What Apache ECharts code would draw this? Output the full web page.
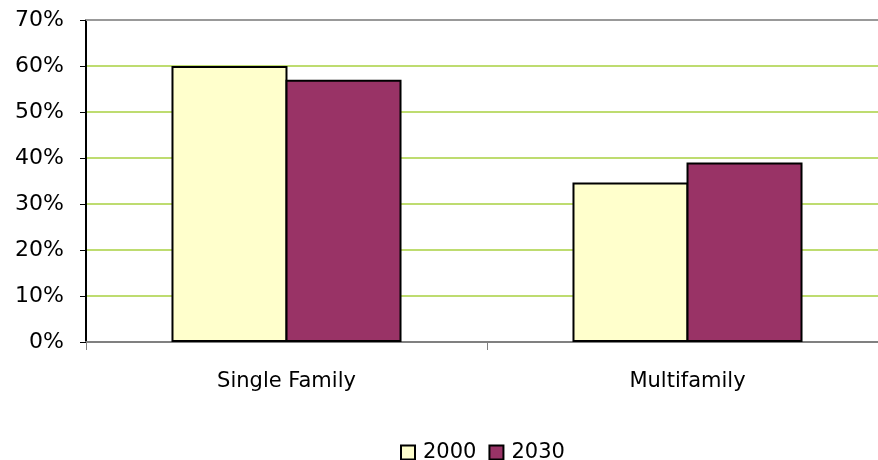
<!DOCTYPE html>
<html>
<head>
    <meta charset="UTF-8">
    <title>Housing mix</title>
    <script src="https://cdn.jsdelivr.net/npm/echarts@6/dist/echarts.min.js"></script>
</head>
<body style="margin:0;background:#ffffff">
    <div id="bar" style="width:878px; height:460px;"></div>
    <script>
        var categories = ['Single Family', 'Multifamily'];
        var years = ['2000', '2030'];
        var values2000 = [60, 34.7];
        var values2030 = [57, 39];
        var colors = ['#ffffcc', '#993366'];

        var chart = echarts.init(document.getElementById('bar'), null, {renderer: 'canvas'});
        var font = 'DejaVu Sans';

        chart.setOption({
            animation: false,
            grid: {left: 86, top: 20, width: 802, height: 322, containLabel: false, outerBoundsMode: 'none'},
            legend: {
                data: years,
                left: 395, top: 437,
                itemWidth: 14, itemHeight: 14, itemGap: 12,
                icon: 'rect',
                textStyle: {fontFamily: font, fontSize: 21, color: '#000', padding: [0, 0, 0, 3]}
            },
            xAxis: [{
                type: 'category',
                data: categories,
                axisLine: {lineStyle: {color: '#808080', width: 2}},
                axisTick: {show: true, length: 8, lineStyle: {color: '#808080', width: 1}},
                axisLabel: {fontFamily: font, fontSize: 21, color: '#000', margin: 29}
            }, {
                type: 'category',
                position: 'top',
                data: categories,
                axisLine: {show: true, lineStyle: {color: '#999999', width: 2}},
                axisTick: {show: false},
                axisLabel: {show: false}
            }],
            yAxis: {
                type: 'value',
                min: 0, max: 70, interval: 10,
                axisLine: {show: true, lineStyle: {color: '#000', width: 2}},
                axisTick: {show: true, length: 6, lineStyle: {color: '#000', width: 1}},
                axisLabel: {fontFamily: font, fontSize: 22, color: '#000', margin: 22, formatter: '{value}%'},
                splitLine: {lineStyle: {color: '#a8d040', width: 1.5}}
            },
            series: [
                {
                    name: years[0], type: 'bar', data: values2000,
                    barWidth: 116, barGap: '-1.7%',
                    itemStyle: {color: colors[0], borderColor: '#000', borderWidth: 2}
                },
                {
                    name: years[1], type: 'bar', data: values2030,
                    barWidth: 116, barGap: '-1.7%',
                    itemStyle: {color: colors[1], borderColor: '#000', borderWidth: 2}
                }
            ]
        });
    </script>
</body>
</html>
